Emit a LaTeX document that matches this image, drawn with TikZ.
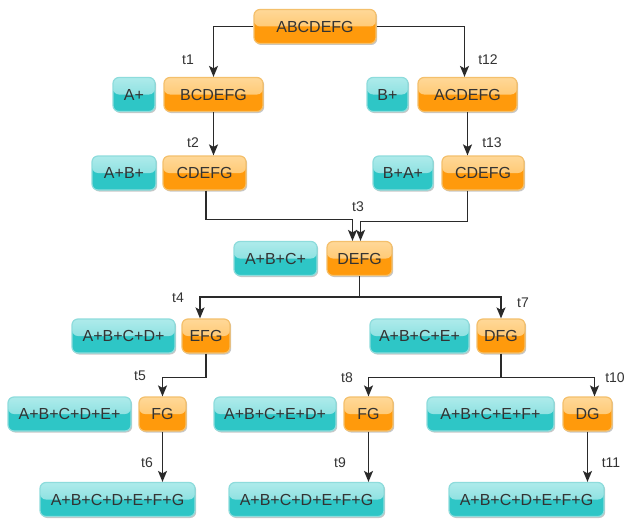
\documentclass[tikz,border=0pt]{standalone}
\usepackage{fontspec}
\setmainfont{Liberation Sans}
\usetikzlibrary{arrows.meta,shadows}
\definecolor{otop}{HTML}{FFD898}
\definecolor{omid}{HTML}{FFBC55}
\definecolor{obot}{HTML}{FF9A0C}
\definecolor{oborder}{HTML}{F4C06C}
\definecolor{ttop}{HTML}{AEEBEB}
\definecolor{tmid}{HTML}{70D8D8}
\definecolor{tbot}{HTML}{2EC6C6}
\definecolor{tborder}{HTML}{8EDCDC}
\definecolor{txt}{HTML}{333333}
\definecolor{linec}{HTML}{2A2A2A}
\tikzset{
  box/.style={rounded corners=6pt, minimum height=34pt, inner sep=0pt,
    font=\fontsize{16}{19}\selectfont, text=txt, line width=1.2pt,
    drop shadow={shadow xshift=1.2pt, shadow yshift=-1.5pt, opacity=0.22, fill=black}},
  ob/.style={box, draw=oborder, fill=obot,
    path picture={\fill[top color=otop, bottom color=omid]
      (path picture bounding box.north west) rectangle (path picture bounding box.east);}},
  tb/.style={box, draw=tborder, fill=tbot,
    path picture={\fill[top color=ttop, bottom color=tmid]
      (path picture bounding box.north west) rectangle (path picture bounding box.east);}},
  lbl/.style={font=\fontsize{14}{16}\selectfont, text=txt, inner sep=0pt},
  seg/.style={line width=1.5pt, draw=linec},
  conn/.style={seg, -{Stealth[length=11pt,width=9pt,inset=2.5pt]}}
}
\begin{document}
\begin{tikzpicture}[x=1pt,y=-1pt]
\useasboundingbox[fill=white] (0,0) rectangle (626,519);
% row 1
\node[ob, minimum width=122pt] (top) at (315,26.5) {ABCDEFG};
% row 2
\node[tb, minimum width=42pt] (ap) at (134,94.5) {A+};
\node[ob, minimum width=99pt] (bcd) at (213.5,94.5) {BCDEFG};
\node[tb, minimum width=41pt] (bp) at (387.5,94.5) {B+};
\node[ob, minimum width=99pt] (acd) at (467.5,94.5) {ACDEFG};
% row 3
\node[tb, minimum width=64pt] (abp) at (124,173) {A+B+};
\node[ob, minimum width=83pt] (c1) at (204.5,173) {CDEFG};
\node[tb, minimum width=60pt] (bap) at (403,173) {B+A+};
\node[ob, minimum width=82pt] (c2) at (483,173) {CDEFG};
% row 4
\node[tb, minimum width=83pt] (abcp) at (275.5,258.5) {A+B+C+};
\node[ob, minimum width=65pt] (defg) at (359.5,258.5) {DEFG};
% row 5
\node[tb, minimum width=103pt] (abcdp) at (123.5,336) {A+B+C+D+};
\node[ob, minimum width=48pt] (efg) at (206,336) {EFG};
\node[tb, minimum width=99pt] (abcep) at (419.5,336) {A+B+C+E+};
\node[ob, minimum width=48pt] (dfg) at (501,336) {DFG};
% row 6
\node[tb, minimum width=123pt] (abcdep) at (69.5,414) {A+B+C+D+E+};
\node[ob, minimum width=47pt] (fg1) at (162.5,414) {FG};
\node[tb, minimum width=122pt] (abcedp) at (275,414) {A+B+C+E+D+};
\node[ob, minimum width=49pt] (fg2) at (368.5,414) {FG};
\node[tb, minimum width=127pt] (abcefp) at (490.5,414) {A+B+C+E+F+};
\node[ob, minimum width=49pt] (dg) at (587.5,414) {DG};
% row 7
\node[tb, minimum width=155pt] (bot1) at (117.5,499.5) {A+B+C+D+E+F+G};
\node[tb, minimum width=155pt] (bot2) at (306.5,499.5) {A+B+C+D+E+F+G};
\node[tb, minimum width=155pt] (bot3) at (526.5,499.5) {A+B+C+D+E+F+G};
% connectors
\draw[conn] (top.west) -| (bcd.north);
\draw[conn] (top.east) -| ([xshift=-3pt]acd.north);
\draw[conn] (bcd.south) -- (bcd.south |- c1.north);
\draw[conn] (acd.south) -- (acd.south |- c2.north);
\draw[conn] ([xshift=1.5pt]c1.south) -- ++(0,29) -| ([xshift=-7pt]defg.north);
\draw[conn] (c2.south -| acd.south) -- ++(0,31) -| ([xshift=1pt]defg.north);
\draw[seg] (defg.south) -- ++(0,21) coordinate (j1);
\draw[conn] (j1) -| ([xshift=-6pt]efg.north);
\draw[conn] (j1) -| (dfg.north);
\draw[conn] (efg.south) -- ++(0,24) -| (fg1.north);
\draw[conn] (fg1.south) -- (fg1.south |- bot1.north);
\draw[seg] (dfg.south) -- ++(0,24) coordinate (j2);
\draw[conn] (j2) -| (fg2.north);
\draw[conn] (j2) -| ([xshift=7pt]dg.north);
\draw[conn] (fg2.south) -- (fg2.south |- bot2.north);
\draw[conn] (dg.south) -- (dg.south |- bot3.north);
% labels
\node[lbl] (t1) at (188,60) {t1};
\node[lbl] (t12) at (488,60) {t12};
\node[lbl] (t2) at (193,143) {t2};
\node[lbl] (t13) at (492,143) {t13};
\node[lbl] (t3) at (358,207) {t3};
\node[lbl] (t4) at (178,298) {t4};
\node[lbl] (t7) at (523,303) {t7};
\node[lbl] (t5) at (140,376) {t5};
\node[lbl] (t8) at (347,378) {t8};
\node[lbl] (t10) at (615,378) {t10};
\node[lbl] (t6) at (147,463) {t6};
\node[lbl] (t9) at (340,463) {t9};
\node[lbl] (t11) at (611,463) {t11};
\end{tikzpicture}
\end{document}
